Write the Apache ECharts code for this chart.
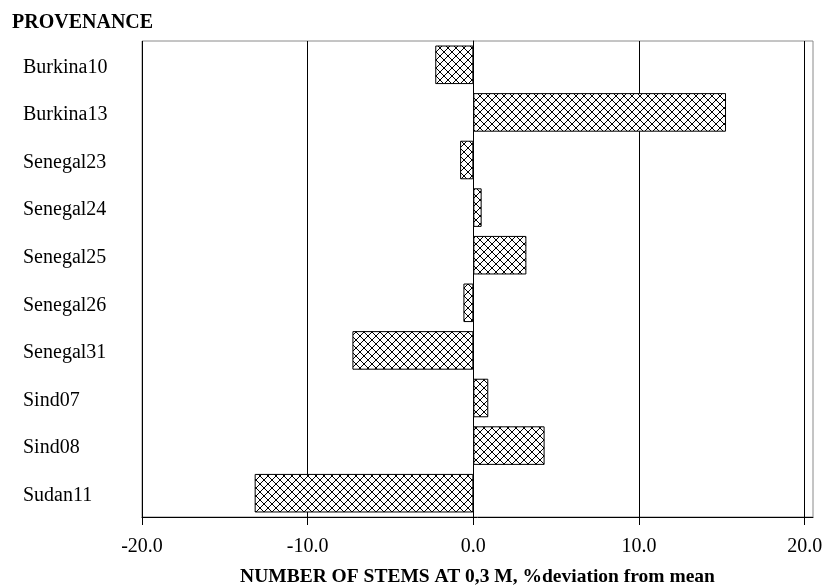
<!DOCTYPE html>
<html>
<head>
<meta charset="utf-8">
<script src="https://cdn.jsdelivr.net/npm/echarts@6/dist/echarts.min.js"></script>
<style>
  html, body { margin: 0; padding: 0; background: #fff; }
  #chart { width: 826px; height: 586px; }
</style>
</head>
<body>
<div id="chart"></div>
<script>
// Provenances, top to bottom
const provenances = ['Burkina10', 'Burkina13', 'Senegal23', 'Senegal24', 'Senegal25',
                     'Senegal26', 'Senegal31', 'Sind07', 'Sind08', 'Sudan11'];
// Number of stems at 0.3 m, % deviation from the mean
const deviation = [-2.3, 15.25, -0.8, 0.5, 3.2, -0.6, -7.3, 0.9, 4.3, -13.2];
// Values shown on the horizontal axis
const xTicks = [-20, -10, 0, 10, 20];

// Cross-hatch fill tile
function hatchTile() {
  const size = 8;
  const c = document.createElement('canvas');
  c.width = size; c.height = size;
  const g = c.getContext('2d');
  g.fillStyle = '#fff';
  g.fillRect(0, 0, size, size);
  g.strokeStyle = '#000';
  g.lineWidth = 1;
  g.beginPath();
  g.moveTo(-1, -1); g.lineTo(size + 1, size + 1);
  g.moveTo(size + 1, -1); g.lineTo(-1, size + 1);
  g.stroke();
  return c;
}

const font = '"Liberation Serif", "Times New Roman", serif';
const chart = echarts.init(document.getElementById('chart'), null, { renderer: 'canvas' });

chart.setOption({
  animation: false,
  backgroundColor: '#fff',
  title: {
    text: 'PROVENANCE',
    left: 7, top: 8,
    textStyle: { fontFamily: font, fontWeight: 'bold', fontSize: 20, color: '#000' }
  },
  grid: {
    left: 142, right: 13, top: 41, bottom: 69,
    show: true, borderColor: '#8a8a8a', borderWidth: 1,
    containLabel: false, outerBoundsMode: 'none'
  },
  xAxis: {
    type: 'value',
    min: -20, max: 20.5, interval: 10,
    name: 'NUMBER OF STEMS AT 0,3 M, %deviation from mean',
    nameLocation: 'middle', nameGap: 50,
    nameTextStyle: { fontFamily: font, fontWeight: 'bold', fontSize: 19.5, color: '#000' },
    axisLine: { show: true, onZero: false, lineStyle: { color: '#000', width: 1 } },
    axisTick: { show: true, length: 8, lineStyle: { color: '#000' }, customValues: xTicks },
    axisLabel: {
      fontFamily: font, fontSize: 20, color: '#000', margin: 20,
      customValues: xTicks,
      formatter: v => v.toFixed(1)
    },
    splitLine: {
      show: true,
      lineStyle: { color: ['#000', '#000', '#000', '#000', '#000', '#8a8a8a'], width: 1 }
    }
  },
  yAxis: {
    type: 'category',
    data: provenances,
    inverse: true,
    axisLine: { show: true, lineStyle: { color: '#000', width: 1 } },
    axisTick: { show: false },
    axisLabel: {
      fontFamily: font, fontSize: 20, color: '#000',
      align: 'left', margin: 119, verticalAlign: 'top', lineHeight: 5
    },
    splitLine: { show: false }
  },
  series: [{
    type: 'bar',
    data: deviation,
    barCategoryGap: '19%',
    itemStyle: {
      color: { image: hatchTile(), repeat: 'repeat' },
      borderColor: '#000',
      borderWidth: 1
    }
  }]
});
</script>
</body>
</html>
